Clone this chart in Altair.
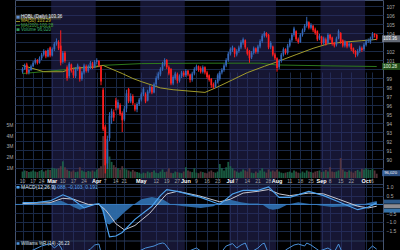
import altair as alt
import pandas as pd

# ---------------- data ----------------
HOLIDAYS = ["2014-02-17", "2014-04-18", "2014-05-26", "2014-07-04", "2014-09-01"]
DAYS = [d for d in pd.bdate_range("2014-02-10", "2014-10-08") if d.strftime("%Y-%m-%d") not in HOLIDAYS]
POS = {d.strftime("%Y-%m-%d"): i for i, d in enumerate(DAYS)}

OPEN = [99.7, 100.0, 100.5, 99.6, 99.9, 100.3, 100.7, 101.0, 100.7, 101.2, 101.6, 102.0, 101.4, 102.4,
        101.5, 102.2, 102.8, 103.0, 102.6, 100.8, 101.8, 100.2, 99.2, 100.5, 99.8, 99.2, 100.0, 100.2, 98.9, 99.6, 100.3, 99.8, 100.2, 100.6, 100.2,
        100.8, 100.9, 100.3, 97.7, 93.6, 89.5, 92.3, 94.6, 95.2, 96.5, 95.7, 96.0, 95.1, 94.4, 95.6, 97.8, 96.4, 97.0, 96.0, 95.5, 96.1,
        96.6, 97.2, 97.2, 96.5, 97.5, 98.0, 97.4, 98.3, 99.0, 99.4, 100.0, 100.5, 101.0, 100.2, 100.0, 98.4, 99.0, 99.4, 98.7, 99.2, 99.6,
        99.3, 99.8, 99.4, 98.8, 99.5, 100.0, 100.3, 100.1, 99.7, 100.2, 99.6, 99.3, 98.9, 98.3, 98.0, 98.6, 98.9, 99.6, 99.9, 100.4, 101.0,
        101.7, 102.1, 102.3, 101.6, 102.0, 102.4, 102.9, 103.2, 102.2, 102.0, 101.3, 101.8, 102.3, 101.9, 102.5, 103.1, 103.7, 104.0, 103.8, 102.4, 102.5, 101.6,
        101.2, 100.2, 100.9, 101.6, 102.2, 101.8, 102.6, 103.2, 103.8, 104.2, 103.3, 103.0, 103.8, 104.3, 104.8, 105.2, 104.6, 104.8, 104.4, 104.2, 103.4,
        103.6, 102.9, 103.3, 102.9, 103.8, 103.5, 102.9, 102.7, 103.4, 104.0, 103.2, 102.6, 103.0, 102.6, 102.8, 102.3, 102.0, 101.6, 102.0, 102.3, 102.2,
        102.7, 103.1, 103.0, 103.4, 103.9, 103.8]
CLOSE = [100.0, 100.4, 99.6, 99.9, 100.3, 100.7, 101.0, 100.7, 101.2, 101.6, 102.0, 101.4, 102.1, 101.5,
         102.2, 102.8, 103.1, 102.3, 100.7, 101.8, 100.9, 99.0, 100.6, 99.8, 99.3, 100.0, 100.4, 98.9, 99.6, 100.4, 99.8, 100.3, 100.7, 100.2, 100.8,
         101.0, 100.4, 98.6, 93.3, 89.3, 92.2, 94.8, 95.3, 94.6, 95.7, 96.3, 95.0, 94.3, 95.6, 97.3, 96.4, 97.0, 96.2, 95.5, 96.1, 96.6,
         97.2, 97.8, 96.4, 97.5, 98.0, 97.4, 98.3, 99.0, 99.5, 100.0, 100.6, 101.0, 100.2, 99.5, 98.4, 99.1, 99.5, 98.7, 99.2, 99.6, 99.3,
         99.8, 99.4, 98.8, 99.5, 100.0, 100.3, 99.9, 99.7, 100.2, 99.6, 99.1, 98.8, 98.2, 98.0, 98.6, 99.3, 99.6, 99.9, 100.4, 101.0, 101.7,
         102.2, 102.4, 101.7, 102.0, 102.4, 103.0, 103.3, 102.4, 101.7, 101.2, 101.8, 102.3, 101.9, 102.5, 103.1, 103.7, 104.0, 103.7, 102.4, 102.9, 101.6, 101.2,
         100.1, 100.9, 101.6, 102.2, 101.8, 102.6, 103.2, 103.8, 104.5, 103.3, 103.0, 103.8, 104.3, 104.8, 105.3, 104.6, 104.9, 104.3, 104.0, 103.3, 103.7,
         102.9, 103.4, 102.8, 103.8, 103.4, 102.8, 102.6, 103.4, 104.2, 103.0, 102.6, 103.0, 102.5, 102.8, 102.2, 101.9, 101.6, 102.0, 102.4, 102.1, 102.7,
         103.1, 103.2, 103.4, 103.9, 103.8, 103.36]
HIGH = [100.2, 100.6, 100.7, 100.1, 100.5, 100.9, 101.2, 101.1, 101.4, 101.8, 102.2, 102.1, 102.3, 102.5,
        102.4, 103.0, 103.4, 103.2, 104.3, 102.0, 102.0, 100.4, 100.8, 100.6, 100.0, 100.2, 100.6, 100.3, 99.8, 100.6, 100.5, 100.5, 100.9, 100.8, 101.0,
        101.2, 101.0, 100.4, 97.9, 93.8, 92.6, 95.2, 95.6, 95.5, 96.8, 96.6, 96.2, 95.3, 95.9, 97.7, 97.9, 97.3, 97.2, 96.2, 96.3, 96.8,
        97.4, 98.0, 97.4, 97.7, 98.2, 98.1, 98.5, 99.2, 99.7, 100.2, 100.8, 101.2, 101.1, 100.4, 100.1, 99.3, 99.7, 99.6, 99.4, 99.8, 99.8,
        100.0, 99.9, 99.5, 99.7, 100.2, 100.5, 100.4, 100.3, 100.4, 100.3, 99.8, 99.4, 99.0, 98.5, 98.8, 99.5, 99.8, 100.1, 100.6, 101.2, 101.9,
        102.4, 102.6, 102.4, 102.2, 102.6, 103.2, 103.5, 103.3, 102.4, 102.1, 102.0, 102.5, 102.4, 102.7, 103.3, 103.9, 104.2, 104.1, 103.9, 103.1, 102.6, 101.8,
        101.3, 101.1, 101.8, 102.4, 102.3, 102.8, 103.4, 104.0, 104.7, 104.3, 103.5, 104.0, 104.5, 105.0, 105.8, 105.3, 105.1, 104.9, 104.6, 104.3, 103.9,
        103.7, 103.6, 103.5, 104.0, 103.9, 103.6, 103.0, 103.6, 104.4, 104.1, 103.3, 103.2, 103.1, 103.0, 102.9, 102.4, 102.1, 102.2, 102.6, 102.5, 102.9,
        103.3, 103.4, 103.6, 104.1, 104.0, 103.9]
LOW = [99.5, 99.9, 99.4, 99.4, 99.8, 100.2, 100.5, 100.5, 100.6, 101.0, 101.4, 101.2, 101.3, 101.3,
       101.4, 102.0, 102.6, 102.1, 100.4, 100.6, 100.7, 98.7, 99.0, 99.6, 99.0, 99.0, 99.8, 98.6, 98.7, 99.4, 99.6, 99.6, 100.0, 100.0, 100.1,
       100.5, 100.2, 98.2, 93.1, 88.4, 88.9, 92.0, 93.9, 94.2, 95.4, 95.5, 94.8, 93.0, 94.2, 95.2, 96.2, 96.2, 96.0, 95.3, 95.2, 95.9,
       96.4, 97.0, 96.2, 96.4, 97.3, 97.2, 97.3, 98.1, 98.8, 99.2, 99.8, 100.3, 100.0, 99.3, 98.2, 98.2, 98.8, 98.4, 98.5, 99.0, 99.1,
       99.1, 99.2, 98.5, 98.6, 99.3, 99.8, 99.7, 99.5, 99.5, 99.4, 98.9, 98.6, 97.9, 97.8, 97.9, 98.4, 98.7, 99.4, 99.7, 100.2, 100.8,
       101.5, 101.9, 101.3, 101.4, 101.8, 102.2, 102.7, 102.2, 101.5, 100.7, 101.1, 101.6, 101.7, 101.7, 102.3, 102.9, 103.5, 103.5, 102.2, 102.2, 101.4, 101.0,
       99.7, 100.0, 100.7, 101.4, 101.6, 101.6, 102.4, 103.0, 103.6, 103.1, 102.8, 102.9, 103.6, 104.1, 104.6, 104.4, 104.4, 104.1, 103.8, 103.1, 103.2,
       102.7, 102.7, 102.6, 102.8, 103.2, 102.6, 102.4, 102.5, 103.3, 102.8, 102.4, 102.4, 102.3, 102.4, 102.0, 101.7, 101.3, 101.4, 101.8, 101.9, 102.0,
       102.5, 102.9, 102.8, 103.2, 103.5, 103.2]
VOLUME = [0.6, 0.7, 0.65, 0.55, 0.6, 0.7, 0.6, 0.55, 0.65, 0.75, 0.6, 0.7, 0.8, 0.75,
          0.95, 0.9, 0.85, 0.9, 1.1, 1.55, 1.0, 0.8, 0.65, 0.6, 0.7, 0.55, 0.6, 1.0, 0.7, 0.6, 0.55, 0.65, 0.6, 0.7, 0.6,
          0.8, 0.9, 1.1, 3.9, 4.7, 2.7, 2.0, 1.5, 1.2, 1.0, 0.9, 0.8, 1.1, 0.9, 0.8, 0.7, 0.6, 0.75, 0.6, 0.55, 0.5,
          0.4, 0.5, 0.45, 0.6, 0.5, 0.55, 0.7, 0.5, 0.45, 0.6, 0.8, 0.55, 0.6, 0.9, 0.5, 0.45, 0.6, 0.55, 0.5, 0.45, 0.6,
          1.0, 0.7, 0.6, 0.55, 0.9, 0.5, 0.45, 0.6, 0.55, 0.5, 0.45, 0.6, 0.7, 0.55, 0.5, 0.6, 1.3, 0.9, 0.7, 1.0, 1.5,
          1.1, 0.9, 0.7, 0.6, 0.5, 0.6, 0.8, 0.7, 0.6, 0.9, 0.5, 0.45, 0.6, 0.5, 0.7, 0.9, 0.6, 0.5, 0.8, 0.6, 0.7, 0.6,
          0.8, 0.6, 0.5, 0.45, 0.5, 0.55, 0.6, 0.5, 0.7, 0.6, 0.5, 0.45, 0.6, 0.5, 0.7, 0.6, 0.55, 0.5, 0.6, 0.65, 0.7,
          0.55, 0.6, 0.75, 0.6, 1.0, 0.6, 0.55, 0.6, 0.7, 1.85, 0.8, 0.6, 0.55, 0.7, 0.6, 0.5, 0.65, 0.75, 0.6, 0.85, 0.8,
          0.9, 0.8, 0.75, 0.85, 0.7, 0.4]

MA50_IDX = [0, 10, 19, 24, 34, 38, 47, 52, 56, 65, 71, 86, 91, 99, 106, 114, 120, 129, 137, 144, 152, 160, 167]
MA50_VAL = [100.4, 99.7, 99.7, 100.1, 100.2, 100.4, 99.5, 98.95, 98.6, 97.9, 97.7, 97.4, 97.9, 98.8, 99.6, 100.3, 100.8, 101.6, 102.3, 102.8, 103.0, 103.15, 103.29]
MA200_IDX = [0, 19, 37, 56, 84, 112, 120, 145, 167]
MA200_VAL = [99.5, 99.9, 100.4, 100.6, 100.65, 100.65, 100.45, 100.35, 100.28]

MACD_IDX = [0, 7, 13, 19, 23, 29, 34, 36, 38, 39, 41, 44, 47, 53, 61, 65, 68, 73, 84, 93, 99, 104, 111, 116, 121, 126, 135, 142, 149, 158, 163, 167]
MACD_VAL = [0.1, 0.12, 0.2, 0.55, 0.35, -0.2, 0.0, 0.05, -0.3, -0.9, -1.85, -1.8, -1.6, -0.85, -0.1, 0.5, 0.85, 0.75, 0.4, 0.0, 0.6, 0.8, 0.8, 1.0, 0.4, 0.4, 0.75, 0.5, 0.15, -0.3, -0.15, 0.088]
SIG_IDX = [0, 13, 19, 24, 31, 36, 39, 41, 44, 48, 53, 60, 65, 68, 73, 83, 93, 98, 104, 111, 116, 121, 126, 135, 142, 149, 158, 163, 167]
SIG_VAL = [0.05, 0.1, 0.35, 0.3, 0.0, 0.0, -0.3, -0.6, -1.1, -1.45, -1.2, -0.5, 0.2, 0.6, 0.75, 0.5, 0.15, 0.3, 0.65, 0.75, 0.85, 0.6, 0.5, 0.65, 0.6, 0.3, -0.1, -0.2, -0.103]
HIST_IDX = [0, 8, 13, 18, 21, 24, 27, 33, 36, 37, 38, 39, 40, 41, 45, 48, 52, 56, 61, 66, 68, 70, 76, 84, 90, 93, 97, 103, 107, 111, 113, 116, 118, 121, 125, 130, 137, 141, 146, 152, 158, 160, 163, 167]
HIST_VAL = [0.02, 0.0, 0.1, 0.22, 0.05, -0.15, -0.3, -0.05, 0.02, -0.2, -0.55, -0.9, -1.1, -1.15, -0.8, -0.45, -0.05, 0.3, 0.43, 0.3, 0.15, 0.0, -0.1, -0.2, -0.1, 0.1, 0.3, 0.12, 0.05, 0.06, 0.0, -0.25, -0.3, -0.25, 0.0, 0.12, 0.0, -0.08, -0.15, -0.12, -0.1, -0.02, 0.08, 0.191]
WR_IDX = [0, 5, 9, 13, 15, 17, 18, 20, 24, 28, 32, 34, 36, 38, 45, 55, 58, 62, 64, 66, 67, 69, 71, 75, 82, 86, 92, 96, 99, 101, 103, 105, 107, 111, 113, 114, 116, 120, 124, 128, 130, 133, 134, 136, 140, 144, 147, 149, 151, 155, 160, 163, 165, 167]
WR_VAL = [-60, -40, -20, -8, -30, -12, -25, -70, -75, -60, -35, -15, -10, -95, -60, -45, -30, -20, -10, -5, -8, -35, -70, -60, -30, -60, -75, -20, -8, -30, -15, -5, -55, -30, -10, -6, -60, -85, -40, -15, -10, -20, -5, -15, -45, -30, -50, -10, -60, -80, -75, -40, -20, -36.23]

TICK_DATES = ["2014-02-10", "2014-02-18", "2014-02-24", "2014-03-03", "2014-03-10", "2014-03-17", "2014-03-24",
              "2014-04-01", "2014-04-07", "2014-04-14", "2014-04-21", "2014-05-01", "2014-05-12", "2014-05-19", "2014-05-27",
              "2014-06-02", "2014-06-09", "2014-06-16", "2014-06-23", "2014-07-01", "2014-07-07", "2014-07-14", "2014-07-21",
              "2014-07-28", "2014-08-01", "2014-08-11", "2014-08-18", "2014-08-25", "2014-09-02", "2014-09-08", "2014-09-15",
              "2014-09-22", "2014-10-01", "2014-10-06"]
TICK_TEXT = ["10", "17", "24", "Mar", "10", "17", "24", "Apr", "7", "14", "21", "May", "12", "19", "27",
             "Jun", "9", "16", "23", "Jul", "7", "14", "21", "28", "Aug", "11", "18", "25", "Sep", "8", "15",
             "22", "Oct", "6"]
BAND_START = ["2014-03-03", "2014-05-01", "2014-07-01", "2014-09-02"]
BAND_END = ["2014-04-01", "2014-06-02", "2014-08-01", "2014-10-01"]

# ---------------- frames ----------------
df = pd.DataFrame({"i": list(range(len(DAYS))), "open": OPEN, "high": HIGH, "low": LOW,
                   "close": CLOSE, "vol": VOLUME})
df["up"] = df["close"] >= df["open"]
ma50 = pd.DataFrame({"i": MA50_IDX, "v": MA50_VAL})
ma200 = pd.DataFrame({"i": MA200_IDX, "v": MA200_VAL})
macd = pd.DataFrame({"i": MACD_IDX, "v": MACD_VAL})
sig = pd.DataFrame({"i": SIG_IDX, "v": SIG_VAL})
hist = pd.DataFrame({"i": HIST_IDX, "v": HIST_VAL})
wr = pd.DataFrame({"i": WR_IDX, "v": WR_VAL})
tick_idx = [POS[d] for d in TICK_DATES]
ticks = pd.DataFrame({"i": tick_idx, "t": TICK_TEXT})
ticks["month"] = ticks["t"].str.isalpha()
bands = pd.DataFrame({"s": [POS[d] - 0.5 for d in BAND_START], "e": [POS[d] - 0.5 for d in BAND_END]})
one = pd.DataFrame({"k": [0]})

GRID = "#1a2946"
FONT = "Liberation Sans"
XS = alt.Scale(domain=[-1.2, 167.6], nice=False, zero=False)
XAX = alt.Axis(values=tick_idx, grid=True, gridColor=GRID, labels=False, ticks=False, domain=False, title=None)


def X(f="i"):
    return alt.X(f"{f}:Q", scale=XS, axis=XAX, title=None)


PS = alt.Scale(domain=[87.89, 107.67], range=[178, 0], nice=False, zero=False)
PAX = alt.Axis(orient="right", values=list(range(89, 108)), grid=True, gridColor=GRID, labelColor="#a9a9a9",
               labelFontSize=5, labelFont=FONT, labelPadding=3, ticks=False, domain=False, title=None,
               labelOverlap=False,
               labelExpr="(datum.value == 103 || datum.value == 100 || datum.value == 89) ? '' : datum.label")
VS = alt.Scale(domain=[0, 16.56], range=[178, 0], nice=False)
VAX = alt.Axis(orient="left", values=[1, 2, 3, 4, 5], labelExpr="datum.value + 'M'", grid=False, ticks=False,
               domain=False, labelColor="#a9a9a9", labelFontSize=5, labelFont=FONT, labelPadding=2, title=None)
MS = alt.Scale(domain=[-2.03, 1.11], range=[240, 185], nice=False, zero=False)
MAX = alt.Axis(orient="right", values=[1.0, 0.5, -0.5, -1.0, -1.5], format=".1f", grid=True, gridColor=GRID,
               labelColor="#a9a9a9", labelFontSize=5, labelFont=FONT, labelPadding=3, ticks=False,
               domain=False, title=None, labelOverlap=False)
WS = alt.Scale(domain=[-100, 0], range=[262, 242], nice=False, zero=False)

updown = alt.condition("datum.up", alt.value("#3467b8"), alt.value("#ff1e1e"))

# background bands
band_layer = alt.Chart(bands).mark_rect(color="#2c2c66", opacity=0.5).encode(
    x=X("s"), x2="e:Q", y=alt.value(0), y2=alt.value(250))

# volume (x values below are in plot-area pixels; the plot starts 15px from the page edge)
vol_layer = alt.layer(
    alt.Chart(df).mark_bar(size=1.8, opacity=0.85).encode(
        x=X(), y=alt.Y("vol:Q", scale=VS, axis=VAX, title=None),
        color=alt.condition("datum.up", alt.value("#1d6a4b"), alt.value("#5f3b41"))),
    alt.Chart(one).mark_tick(orient="horizontal", size=18, thickness=6, color="#3d6fb5").encode(
        x=alt.value(376), y=alt.YDatum(0.45, scale=VS, axis=VAX, type="quantitative")),
    alt.Chart(one).mark_text(align="right", baseline="middle", fontSize=4.2, font=FONT, color="#ffffff").encode(
        x=alt.value(382), y=alt.YDatum(0.45, scale=VS, axis=VAX, type="quantitative"), text=alt.value("96,020")),
)


def PY(f):
    return alt.Y(f"{f}:Q", scale=PS, axis=PAX, title=None)


def PD(v):
    return alt.YDatum(v, scale=PS, axis=PAX, type="quantitative")


price_layer = alt.layer(
    alt.Chart(ma200).mark_line(color="#2d7a1d", strokeWidth=1).encode(x=X(), y=PY("v")),
    alt.Chart(ma50).mark_line(color="#a29c2c", strokeWidth=1).encode(x=X(), y=PY("v")),
    alt.Chart(df).mark_rule(strokeWidth=1).encode(x=X(), y=PY("low"), y2="high:Q", color=updown),
    alt.Chart(df).mark_bar(size=1.7).encode(x=X(), y=PY("open"), y2="close:Q", color=updown),
    alt.Chart(one).mark_tick(orient="horizontal", size=18, thickness=7, color="#8d96a6").encode(
        x=alt.value(376), y=PD(103.36)),
    alt.Chart(one).mark_text(align="right", baseline="middle", fontSize=4.5, font=FONT, color="#ffffff").encode(
        x=alt.value(382), y=PD(103.36), text=alt.value("103.36")),
    alt.Chart(one).mark_tick(orient="horizontal", size=18, thickness=7, color="#2f6b22").encode(
        x=alt.value(376), y=PD(100.28)),
    alt.Chart(one).mark_text(align="right", baseline="middle", fontSize=4.5, font=FONT, color="#e6ffe0").encode(
        x=alt.value(382), y=PD(100.28), text=alt.value("100.28")),
)


def MY(f):
    return alt.Y(f"{f}:Q", scale=MS, axis=MAX, title=None)


def MD(v):
    return alt.YDatum(v, scale=MS, axis=MAX, type="quantitative")


macd_layer = alt.layer(
    alt.Chart(hist).mark_area(color="#2e6dab", opacity=0.95).encode(x=X(), y=MY("v"), y2=alt.Y2Datum(0)),
    alt.Chart(one).mark_rule(color="#3b80c6", strokeWidth=1).encode(y=MD(0)),
    alt.Chart(sig).mark_line(color="#c8c8d0", strokeWidth=1).encode(x=X(), y=MY("v")),
    alt.Chart(macd).mark_line(color="#4da2ee", strokeWidth=1.2).encode(x=X(), y=MY("v")),
    alt.Chart(one).mark_tick(orient="horizontal", size=16, thickness=4, color="#3d7fc4").encode(
        x=alt.value(377), y=MD(0.16)),
    alt.Chart(one).mark_tick(orient="horizontal", size=16, thickness=4, color="#c8c8d0").encode(
        x=alt.value(377), y=MD(-0.1)),
    alt.Chart(one).mark_tick(orient="horizontal", size=16, thickness=4, color="#4da2ee").encode(
        x=alt.value(377), y=MD(-0.35)),
)

wr_layer = alt.Chart(wr).mark_line(color="#4a90d9", strokeWidth=1).encode(
    x=X(), y=alt.Y("v:Q", scale=WS, axis=None, title=None))


def txt(s, x, y, color, size=4.5, weight="normal"):
    return alt.Chart(one).mark_text(align="left", baseline="middle", fontSize=size, font=FONT,
                                    color=color, fontWeight=weight).encode(
        x=alt.value(x), y=alt.value(y), text=alt.value(s))


def box(x1, x2, y1, y2, color):
    return alt.Chart(one).mark_rect(color=color).encode(
        x=alt.value(x1), x2=alt.value(x2), y=alt.value(y1), y2=alt.value(y2))


overlay = alt.layer(
    alt.Chart(one).mark_rule(color="#2b3b5a", strokeWidth=1).encode(
        x=alt.value(0), x2=alt.value(368), y=alt.value(184.5)),
    alt.Chart(one).mark_rule(color="#2b3b5a", strokeWidth=1).encode(
        x=alt.value(0), x2=alt.value(368), y=alt.value(241)),
    alt.Chart(ticks[~ticks["month"]]).mark_text(fontSize=5, font=FONT, color="#a0a0a0", baseline="middle").encode(
        x=X(), y=alt.value(181), text="t:N"),
    alt.Chart(ticks[ticks["month"]]).mark_text(fontSize=5.5, font=FONT, color="#ffffff", fontWeight="bold",
                                               baseline="middle").encode(
        x=X(), y=alt.value(181), text="t:N"),
    box(0, 46, 14.8, 19.6, "#3a3a3a"),
    box(1.5, 4.5, 15.8, 18.6, "#5b8fd6"),
    txt("HOBL (Daily) 103.36", 6, 17.3, "#e8eef8"),
    box(1, 5, 21.0, 21.8, "#b7b030"),
    txt("MA(50) 103.29", 6, 21.4, "#c9c23a"),
    box(1, 5, 25.2, 26.0, "#2f8a24"),
    txt("MA(200) 100.28", 6, 25.6, "#45a83a"),
    box(1.5, 4.5, 28.3, 31.0, "#2f9a5a"),
    txt("Volume 96,020", 6, 29.7, "#3db070"),
    box(1.5, 4.5, 186.0, 188.6, "#4da2ee"),
    txt("MACD(12,26,9)", 6, 187.3, "#dfe6f2", 5),
    txt("0.088, -0.103, 0.191", 38, 187.3, "#5aa8ee", 5),
    box(1.5, 4.5, 242.2, 244.8, "#4a90d9"),
    txt("Williams %R (14) -36.23", 6, 243.5, "#dfe6f2", 4.5),
)

chart = alt.layer(band_layer, vol_layer, price_layer, macd_layer, wr_layer, overlay).resolve_scale(
    y="independent"
).properties(
    width=368, height=250,
    padding={"left": 15, "top": 0, "right": 17, "bottom": 0},
    autosize=alt.AutoSizeParams(type="none"),
    background="#000000",
).configure_view(stroke="#44536f", strokeWidth=1)

chart.save("out.html", embed_options={"renderer": "svg", "actions": False})
